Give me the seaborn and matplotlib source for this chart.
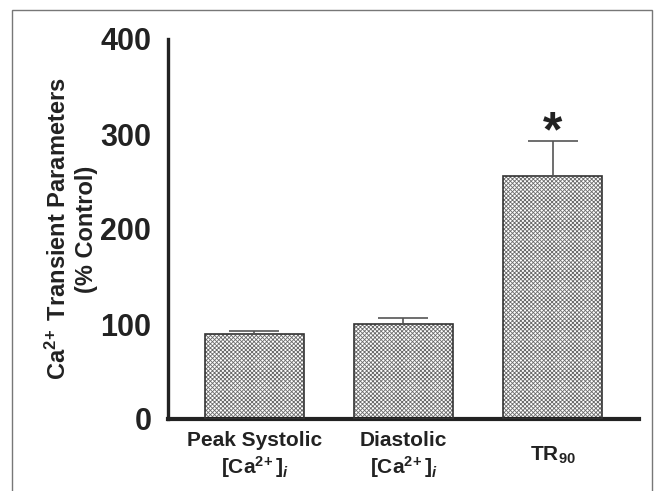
import seaborn as sns
import matplotlib.pyplot as plt
from matplotlib.patches import Rectangle
import pandas as pd

# values
categories = ["Peak Systolic\n[Ca$^{2\\!+}$]$_\\mathit{i}$",
              "Diastolic\n[Ca$^{2\\!+}$]$_\\mathit{i}$",
              "TR$_{90}$"]
means = [90, 100, 256]
sem = [3, 6, 37]
y_ticks = [0, 100, 200, 300, 400]

sns.set_style("white")
plt.rcParams["font.family"] = ["Liberation Sans", "DejaVu Sans"]
plt.rcParams["font.weight"] = "bold"
plt.rcParams["mathtext.fontset"] = "custom"
plt.rcParams["mathtext.rm"] = "Liberation Sans:bold"
plt.rcParams["mathtext.it"] = "Liberation Sans:bold:italic"
plt.rcParams["mathtext.bf"] = "Liberation Sans:bold"
plt.rcParams["hatch.linewidth"] = 0.6

df = pd.DataFrame({"cat": categories, "val": means})

fig = plt.figure(figsize=(6.58, 4.91), dpi=100)
ax = fig.add_axes([168 / 658, 1 - 419 / 491, (639 - 168) / 658, (419 - 39) / 491])

sns.barplot(data=df, x="cat", y="val", ax=ax, color="white",
            edgecolor="#6a6a6a", linewidth=0, hatch="xxxxxxxx", width=0.665)

# outlines on top of the hatched bars
for p in ax.patches[:len(means)]:
    ax.add_patch(Rectangle(p.get_xy(), p.get_width(), p.get_height(),
                           fill=False, edgecolor="#333333", lw=1.2, zorder=3))

ax.errorbar(range(len(means)), means, yerr=[[0] * len(means), sem], fmt="none",
            ecolor="#555555", elinewidth=1.2, capsize=18, capthick=1.2, zorder=4)

ax.text(2, means[2] + sem[2] - 6, "*", ha="center", va="baseline",
        fontsize=36, fontweight="bold", color="#222222")

ax.set_ylim(0, 400)
ax.set_xlim(-0.58, 2.58)
ax.set_yticks(y_ticks)
ax.set_xlabel("")
ax.set_ylabel("Ca$^{2\\!+}$ Transient Parameters\n(% Control)", fontsize=17,
              fontweight="bold", labelpad=2, color="#222222")

sns.despine(ax=ax)
ax.spines["left"].set_linewidth(2.4)
ax.spines["bottom"].set_linewidth(3)
ax.spines["left"].set_color("#222222")
ax.spines["bottom"].set_color("#222222")

ax.tick_params(axis="y", direction="in", length=5, width=2.2, pad=12,
               labelsize=22, colors="#222222")
ax.tick_params(axis="x", length=0, pad=26, labelsize=15, colors="#222222")
for lab in ax.get_xticklabels():
    lab.set_va("center")
    lab.set_fontweight("bold")
for lab in ax.get_yticklabels():
    lab.set_fontweight("bold")

# outer frame of the panel
fig.add_artist(Rectangle((12 / 658, -0.05), (652 - 12) / 658, 1.05 - 10 / 491,
                         transform=fig.transFigure, fill=False,
                         edgecolor="#777777", lw=1))

fig.savefig("out.png", dpi=100)
